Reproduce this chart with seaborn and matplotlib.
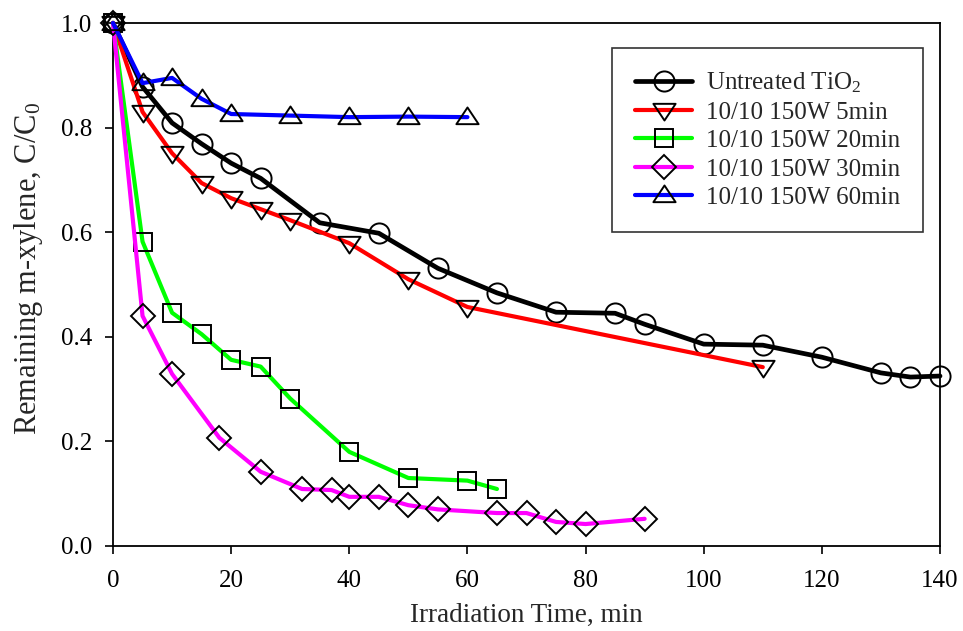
import numpy as np
import pandas as pd
import matplotlib
matplotlib.use("Agg")
import matplotlib.pyplot as plt
from matplotlib.path import Path
import seaborn as sns

# ---------------- data ----------------
t_untreated = [0, 5, 10, 15, 20, 25, 35, 45, 55, 65, 75, 85, 90, 100, 110, 120, 130, 135, 140]
c_untreated = [1.0, 0.878, 0.809, 0.769, 0.732, 0.703, 0.618, 0.598, 0.531, 0.484, 0.447,
               0.445, 0.424, 0.386, 0.384, 0.361, 0.331, 0.323, 0.325]

t_5min = [0, 5, 10, 15, 20, 25, 30, 40, 50, 60, 110]
c_5min = [1.0, 0.830, 0.751, 0.694, 0.665, 0.644, 0.623, 0.579, 0.510, 0.457, 0.342]

t_20min = [0, 5, 10, 15, 20, 25, 30, 40, 50, 60, 65]
c_20min = [1.0, 0.582, 0.446, 0.405, 0.356, 0.343, 0.282, 0.180, 0.130, 0.125, 0.109]

t_30min = [0, 5, 10, 18, 25, 32, 37, 40, 45, 50, 55, 65, 70, 75, 80, 90]
c_30min = [1.0, 0.440, 0.329, 0.207, 0.142, 0.109, 0.107, 0.094, 0.094, 0.078, 0.070,
           0.063, 0.063, 0.046, 0.042, 0.052]

t_60min = [0, 5, 10, 15, 20, 30, 40, 50, 60]
c_60min = [1.0, 0.885, 0.895, 0.855, 0.826, 0.823, 0.820, 0.821, 0.820]

labels = ["Untreated TiO$_2$", "10/10 150W 5min", "10/10 150W 20min",
          "10/10 150W 30min", "10/10 150W 60min"]
x_ticks = [0, 20, 40, 60, 80, 100, 120, 140]
y_ticks = [0.0, 0.2, 0.4, 0.6, 0.8, 1.0]

# ---------------- style ----------------
sns.set_style("ticks")
plt.rcParams['font.family'] = ['Liberation Serif', 'DejaVu Serif']
plt.rcParams['mathtext.fontset'] = 'custom'
plt.rcParams['mathtext.rm'] = 'Liberation Serif'
plt.rcParams['mathtext.it'] = 'Liberation Serif:italic'

tri_up = Path([(-1, -0.6), (1, -0.6), (0, 0.9), (-1, -0.6)],
              [Path.MOVETO, Path.LINETO, Path.LINETO, Path.CLOSEPOLY])
tri_dn = Path([(-1, 0.6), (1, 0.6), (0, -0.9), (-1, 0.6)],
              [Path.MOVETO, Path.LINETO, Path.LINETO, Path.CLOSEPOLY])

series = [
    (t_untreated, c_untreated, "black", "o", 14.5, 3.4),
    (t_5min, c_5min, "#ff0000", tri_dn, 16, 3.0),
    (t_20min, c_20min, "#00ff00", "s", 12.3, 3.0),
    (t_30min, c_30min, "#ff00ff", "D", 12.5, 3.0),
    (t_60min, c_60min, "#0000ff", tri_up, 16, 3.0),
]

fig = plt.figure(figsize=(9.63, 6.31), dpi=100)
ax = fig.add_axes([113 / 963, 85 / 631, 827 / 963, 523 / 631])

for (t, c, col, mk, ms, lw), lab in zip(series, labels):
    df = pd.DataFrame({"t": t, "c": c})
    sns.lineplot(data=df, x="t", y="c", ax=ax, color=col, lw=lw, sort=False,
                 estimator=None, label=lab, marker=mk, markersize=ms,
                 markerfacecolor="none", markeredgecolor="black",
                 markeredgewidth=1.4, clip_on=False, zorder=3)

ax.set_xlim(0, 140)
ax.set_ylim(0, 1.0)
ax.set_xticks(x_ticks)
ax.set_xticklabels([str(v) for v in x_ticks])
ax.set_yticks(y_ticks)
ax.set_yticklabels([f"{v:.1f}" for v in y_ticks])
ax.tick_params(axis="both", direction="out", length=6, width=1.2,
               labelsize=18, colors="black")
ax.tick_params(axis="x", pad=11)
ax.tick_params(axis="y", pad=9)
for s in ax.spines.values():
    s.set_visible(True)
    s.set_linewidth(1.3)
    s.set_color("black")

ax.set_xlabel("Irradiation Time, min", fontsize=19.5, labelpad=8)
ax.set_ylabel("Remaining m-xylene, C/C$_0$", fontsize=22)
ax.yaxis.set_label_coords(-0.082, 0.53)

leg = ax.legend(loc="upper right", bbox_to_anchor=(0.979, 0.952), fontsize=18,
                frameon=True, fancybox=False, edgecolor="black",
                handlelength=2.3, handletextpad=0.55, labelspacing=0.24,
                borderpad=0.9, borderaxespad=0)
leg.get_frame().set_linewidth(1.2)
leg.set_zorder(5)

fig.savefig("out.png", dpi=100)
